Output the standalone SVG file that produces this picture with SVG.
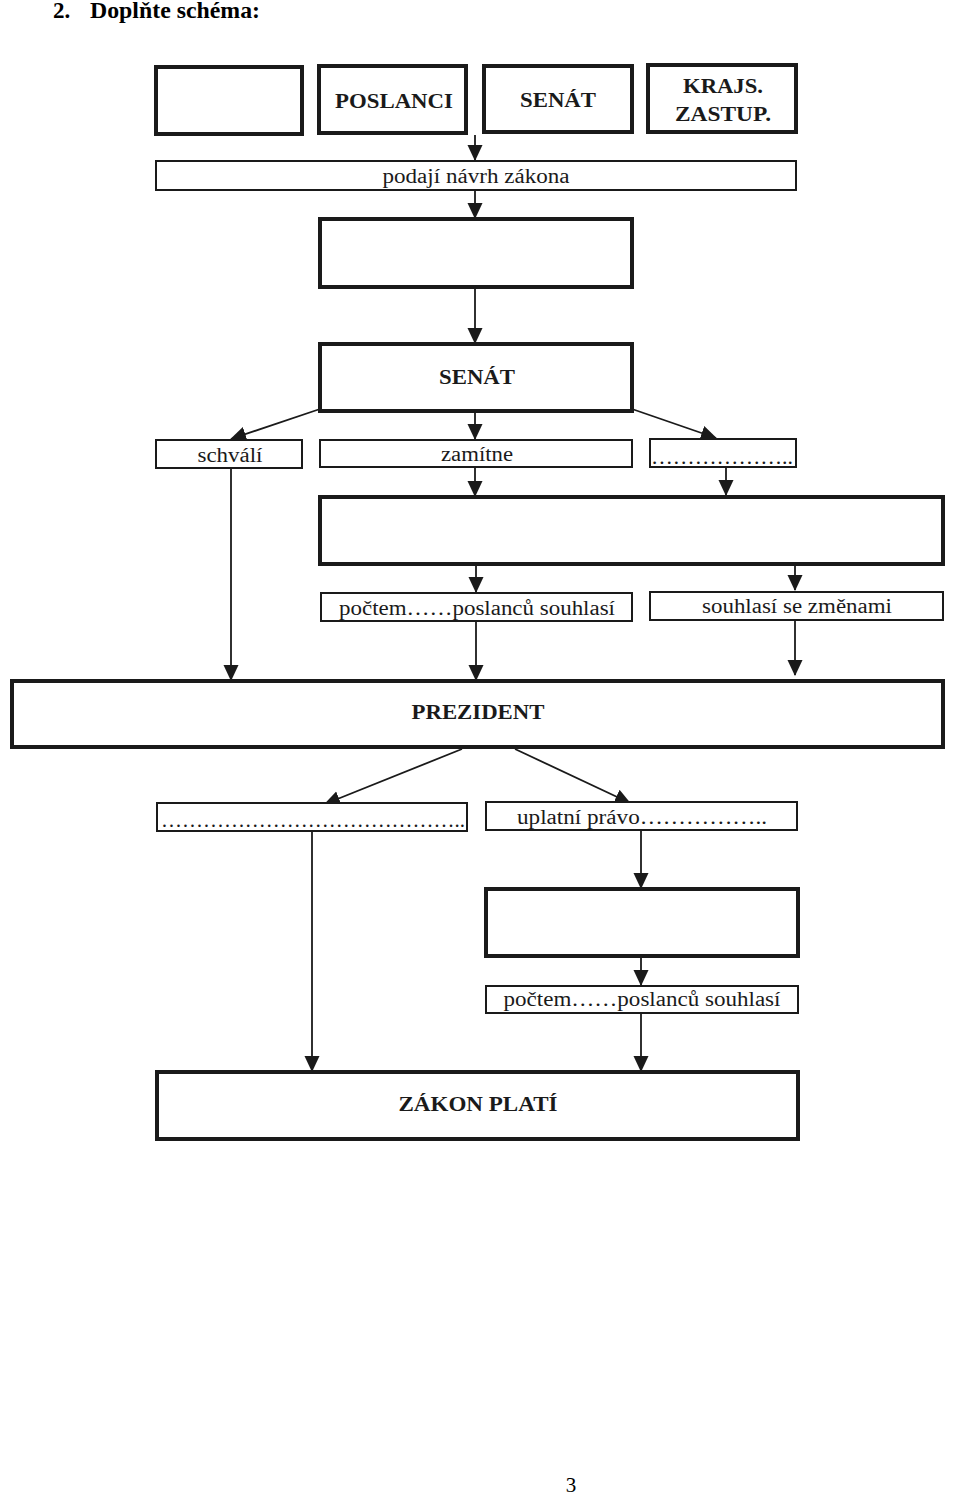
<svg xmlns="http://www.w3.org/2000/svg" width="960" height="1495" viewBox="0 0 960 1495">
<style>
.thick{fill:#fff;stroke:#1a1a1a;stroke-width:4}
.thin{fill:#fff;stroke:#1a1a1a;stroke-width:2}
.b{font-family:"Liberation Serif","Times New Roman",serif;font-weight:bold;font-size:21px;fill:#1a1a1a;text-anchor:middle}
.r{font-family:"Liberation Serif","Times New Roman",serif;font-size:20px;fill:#1a1a1a;text-anchor:middle}
.c{stroke:#1a1a1a;stroke-width:1.8;fill:none;marker-end:url(#ah)}
</style>
<defs>
<marker id="ah" markerUnits="userSpaceOnUse" markerWidth="16" markerHeight="17" viewBox="0 0 17 16" refX="16" refY="8" orient="auto">
<path d="M0,0 L17,8 L0,16 Z" fill="#1a1a1a"/>
</marker>
</defs>
<rect width="960" height="1495" fill="#fff"/>
<text x="53" y="18" font-family="Liberation Serif, Times New Roman, serif" font-weight="bold" font-size="23" fill="#000">2.</text>
<text x="90" y="18" font-family="Liberation Serif, Times New Roman, serif" font-weight="bold" font-size="23" fill="#000" textLength="170" lengthAdjust="spacingAndGlyphs">Doplňte schéma:</text>

<g id="connectors">
<line class="c" x1="475" y1="135" x2="475" y2="160"/>
<line class="c" x1="475" y1="191" x2="475" y2="218"/>
<line class="c" x1="475" y1="288" x2="475" y2="343"/>
<line class="c" x1="320" y1="409" x2="231" y2="439"/>
<line class="c" x1="475" y1="412" x2="475" y2="439"/>
<line class="c" x1="632" y1="409" x2="716" y2="438"/>
<line class="c" x1="475" y1="468" x2="475" y2="496"/>
<line class="c" x1="726" y1="468" x2="726" y2="495"/>
<line class="c" x1="231" y1="469" x2="231" y2="680"/>
<line class="c" x1="476" y1="565" x2="476" y2="592"/>
<line class="c" x1="795" y1="565" x2="795" y2="590"/>
<line class="c" x1="476" y1="622" x2="476" y2="680"/>
<line class="c" x1="795" y1="621" x2="795" y2="675"/>
<line class="c" x1="462" y1="749" x2="325" y2="804"/>
<line class="c" x1="515" y1="749" x2="630" y2="803"/>
<line class="c" x1="312" y1="832" x2="312" y2="1071"/>
<line class="c" x1="641" y1="831" x2="641" y2="888"/>
<line class="c" x1="641" y1="957" x2="641" y2="985"/>
<line class="c" x1="641" y1="1014" x2="641" y2="1071"/>
</g>

<g id="n1"><rect class="thick" x="156" y="67" width="146" height="67"/></g>
<g id="n2"><rect class="thick" x="319" y="66" width="147" height="67"/><text class="b" x="394" y="108" textLength="118" lengthAdjust="spacingAndGlyphs">POSLANCI</text></g>
<g id="n3"><rect class="thick" x="484" y="66" width="148" height="66"/><text class="b" x="558" y="107" textLength="76" lengthAdjust="spacingAndGlyphs">SENÁT</text></g>
<g id="n4"><rect class="thick" x="648" y="65" width="148" height="67"/><text class="b" x="723" y="93" textLength="80" lengthAdjust="spacingAndGlyphs">KRAJS.</text><text class="b" x="723" y="121" textLength="96" lengthAdjust="spacingAndGlyphs">ZASTUP.</text></g>

<g id="n5"><rect class="thin" x="156" y="161" width="640" height="29"/><text class="r" x="476" y="183" textLength="187" lengthAdjust="spacingAndGlyphs">podají návrh zákona</text></g>
<g id="n6"><rect class="thick" x="320" y="219" width="312" height="68"/></g>
<g id="n7"><rect class="thick" x="320" y="344" width="312" height="67"/><text class="b" x="477" y="384" textLength="76" lengthAdjust="spacingAndGlyphs">SENÁT</text></g>

<g id="n8"><rect class="thin" x="156" y="440" width="146" height="28"/><text class="r" x="230" y="462" textLength="65" lengthAdjust="spacingAndGlyphs">schválí</text></g>
<g id="n9"><rect class="thin" x="320" y="440" width="312" height="27"/><text class="r" x="477" y="461" textLength="72" lengthAdjust="spacingAndGlyphs">zamítne</text></g>
<g id="n10"><rect class="thin" x="650" y="439" width="146" height="28"/><text class="r" x="722" y="464" textLength="142" lengthAdjust="spacingAndGlyphs">………………..</text></g>

<g id="n11"><rect class="thick" x="320" y="497" width="623" height="67"/></g>
<g id="n12"><rect class="thin" x="321" y="593" width="311" height="28"/><text class="r" x="477" y="615" textLength="276" lengthAdjust="spacingAndGlyphs">počtem……poslanců souhlasí</text></g>
<g id="n13"><rect class="thin" x="650" y="592" width="293" height="28"/><text class="r" x="797" y="613" textLength="190" lengthAdjust="spacingAndGlyphs">souhlasí se změnami</text></g>

<g id="n14"><rect class="thick" x="12" y="681" width="931" height="66"/><text class="b" x="478" y="719" textLength="133" lengthAdjust="spacingAndGlyphs">PREZIDENT</text></g>

<g id="n15"><rect class="thin" x="157" y="803" width="310" height="28"/><text class="r" x="313" y="827" textLength="304" lengthAdjust="spacingAndGlyphs">……………………………………..</text></g>
<g id="n16"><rect class="thin" x="486" y="802" width="311" height="28"/><text class="r" x="642" y="824" textLength="250" lengthAdjust="spacingAndGlyphs">uplatní právo……………..</text></g>

<g id="n17"><rect class="thick" x="486" y="889" width="312" height="67"/></g>
<g id="n18"><rect class="thin" x="486" y="986" width="312" height="27"/><text class="r" x="642" y="1006" textLength="277" lengthAdjust="spacingAndGlyphs">počtem……poslanců souhlasí</text></g>

<g id="n19"><rect class="thick" x="157" y="1072" width="641" height="67"/><text class="b" x="478" y="1111" textLength="159" lengthAdjust="spacingAndGlyphs">ZÁKON PLATÍ</text></g>

<text x="571" y="1492" font-family="Liberation Serif, Times New Roman, serif" font-size="21" fill="#000" text-anchor="middle">3</text>
</svg>
